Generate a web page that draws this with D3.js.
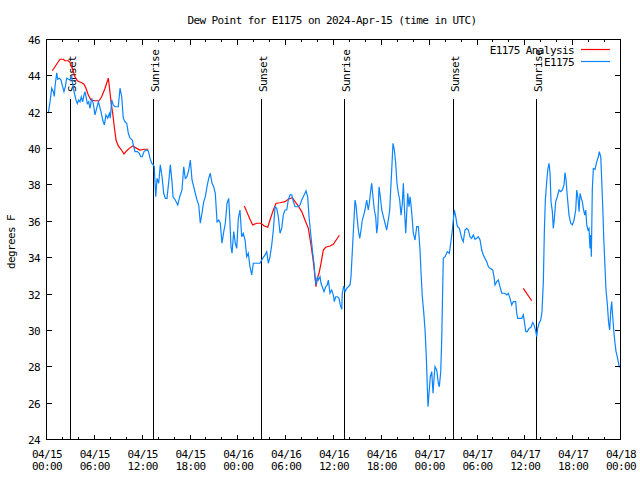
<!DOCTYPE html>
<html><head><meta charset="utf-8">
<script src="https://cdn.jsdelivr.net/npm/d3@7"></script>
<style>
body{margin:0;background:#fff}
svg{display:block}
text{font-family:"DejaVu Sans Mono",monospace;font-size:11px;letter-spacing:-0.6px;fill:#000}
</style>
</head><body><svg id="c" width="640" height="480"></svg>
<script>
const startTime = Date.UTC(2024, 3, 15, 0, 0, 0);
const titleText = "Dew Point for E1175 on 2024-Apr-15 (time in UTC)";
const yLabel = "degrees F";
const seriesNames = ["E1175 Analysis", "E1175"];

// E1175 observations: hours since 2024-04-15 00:00 UTC, dew point °F
const obsHours = [0.16,0.38,0.59,0.79,0.92,1.00,1.22,1.34,1.54,1.76,1.92,2.13,2.30,2.47,2.72,2.89,3.10,3.22,3.39,3.64,3.80,3.98,4.14,4.30,4.48,4.64,4.77,4.89,5.06,5.23,5.39,5.61,5.81,6.02,6.23,6.44,6.56,6.77,6.99,7.19,7.40,7.61,7.82,7.94,8.12,8.32,8.53,8.94,9.16,9.37,9.57,9.78,10.00,10.20,10.41,10.70,10.83,11.04,11.33,11.58,11.75,11.95,12.17,12.42,12.71,12.92,13.13,13.33,13.46,13.51,13.64,13.80,14.01,14.21,14.43,14.64,14.84,15.05,15.27,15.47,15.68,15.81,16.09,16.40,16.65,16.93,17.15,17.35,17.56,17.78,17.98,18.19,18.40,18.60,18.82,19.03,19.23,19.44,19.66,19.86,20.07,20.28,20.48,20.70,20.91,21.11,21.33,21.54,21.74,21.95,22.17,22.37,22.58,22.79,22.92,23.08,23.21,23.42,23.62,23.80,24.00,24.21,24.42,24.62,24.84,25.05,25.25,25.46,25.68,25.88,26.09,26.72,26.93,27.35,27.56,27.76,27.97,28.19,28.39,28.60,28.81,29.02,29.23,29.44,29.64,29.85,30.07,30.27,30.48,30.70,30.90,31.11,31.52,31.74,31.95,32.15,32.36,32.49,32.70,32.87,33.03,33.20,33.33,33.49,33.62,33.74,33.91,34.03,34.25,34.37,34.53,34.75,34.96,35.16,35.29,35.50,35.71,35.91,36.04,36.21,36.42,36.63,36.79,36.97,37.04,37.22,37.38,37.59,37.80,38.01,38.13,38.22,38.35,38.47,38.64,38.76,38.89,39.05,39.23,39.39,39.55,39.73,39.89,40.10,40.30,40.43,40.61,40.73,40.89,41.06,41.23,41.36,41.48,41.65,41.81,41.99,42.19,42.40,42.61,42.81,42.99,43.11,43.24,43.40,43.57,43.74,43.90,44.07,44.24,44.41,44.57,44.70,44.82,45.00,45.12,45.25,45.41,45.54,45.66,45.79,45.95,46.16,46.38,46.58,46.79,46.92,47.08,47.25,47.42,47.58,47.71,47.79,47.92,48.08,48.26,48.42,48.58,48.67,48.88,49.09,49.21,49.39,49.51,49.64,49.71,49.93,50.21,50.47,50.64,50.80,50.97,51.09,51.27,51.47,51.72,52.02,52.22,52.43,52.65,52.85,53.06,53.27,53.48,53.69,53.90,54.10,54.32,54.53,54.73,54.94,55.16,55.36,55.57,55.91,56.07,56.20,56.41,56.61,56.82,57.04,57.45,57.67,57.87,58.08,58.29,58.49,58.79,58.92,59.05,59.55,59.75,59.88,60.05,60.25,60.46,60.71,60.93,61.09,61.25,61.43,61.55,61.72,61.93,62.09,62.26,62.38,62.51,62.68,62.81,62.97,63.10,63.22,63.39,63.51,63.64,63.81,64.01,64.23,64.44,64.64,64.85,64.98,65.11,65.27,65.48,65.69,65.90,66.11,66.32,66.45,66.61,66.74,66.86,67.02,67.15,67.27,67.45,67.58,67.70,67.86,67.99,68.11,68.20,68.28,68.40,68.53,68.74,68.96,69.16,69.28,69.46,69.58,69.71,69.83,69.99,70.12,70.28,70.45,70.58,70.71,70.83,70.96,71.12,71.25,71.38,71.53,71.66,71.78,71.96];
const obsValues = [41.97,42.6,43.35,43.16,42.9,43.43,44.2,43.84,43.9,43.8,43.5,43.16,43.43,43.9,43.84,43.8,43.98,43.6,43.16,42.7,42.5,42.7,42.6,42.88,42.6,42.98,43.16,42.88,42.5,42.6,42.24,42.79,42.5,41.88,42.24,42.6,42.42,42.06,41.6,41.33,41.88,41.7,41.97,41.7,42.7,42.42,42.33,42.33,43.35,42.88,41.7,41.5,41.42,40.87,40.6,40.5,40.23,39.86,39.86,39.77,39.58,39.58,39.86,39.95,39.9,39.5,39.22,39.13,39.03,38.48,37.38,38.39,38.12,39.13,38.48,37.57,37.29,37.29,38.2,39.13,38.2,37.38,37.2,36.93,37.38,37.75,39.03,38.39,38.48,38.85,39.4,38.3,37.93,37.57,37.2,36.93,35.92,36.47,37.11,37.38,37.93,38.39,38.67,38.12,37.93,37.57,36.0,36.1,35.92,34.82,35.46,35.92,37.02,37.29,36.28,34.63,34.27,35.46,34.82,34.54,36.19,36.65,35.18,35.37,35.0,34.08,34.27,33.53,33.08,33.72,33.72,33.72,33.9,34.18,34.36,33.72,34.08,34.73,35.55,36.83,36.74,36.28,35.37,35.64,36.37,36.65,36.65,37.2,37.48,37.48,37.11,36.83,36.83,36.93,37.2,37.38,37.57,37.71,37.38,36.28,35.55,34.82,34.27,33.72,32.98,32.53,32.98,32.8,32.98,32.62,32.43,32.16,32.43,32.53,32.8,32.07,32.25,31.98,31.61,31.88,31.88,31.79,31.43,31.19,32.07,32.47,32.16,32.34,32.43,32.53,32.98,33.72,34.82,35.83,37.2,36.93,36.28,35.55,35.09,35.55,36.1,36.37,36.65,37.2,36.65,37.02,37.75,38.12,37.38,36.65,36.28,35.37,35.83,37.93,37.38,36.65,36.28,35.92,35.55,36.1,36.65,37.75,38.85,40.32,39.95,39.22,38.12,37.57,37.2,36.37,37.02,38.12,36.83,35.37,36.47,37.57,36.83,37.38,36.93,36.28,35.37,35.0,35.74,35.74,34.45,33.17,31.88,31.06,30.05,28.58,26.84,25.83,26.57,27.48,27.76,26.57,27.58,28.03,27.85,27.12,26.93,27.76,29.5,32.43,33.99,34.08,34.36,34.27,34.82,35.37,36.1,36.65,36.28,35.74,35.64,35.09,34.91,35.55,35.64,35.55,35.18,35.09,35.28,35.04,35.09,35.18,35.0,34.45,34.18,33.99,33.81,33.53,33.44,33.35,32.98,32.53,32.71,32.8,32.43,32.07,32.07,31.98,32.07,31.79,31.43,31.61,31.61,30.97,30.69,30.69,30.88,30.51,29.96,29.96,30.14,30.2,30.46,30.33,30.09,29.68,30.14,30.42,30.6,31.06,32.71,35.37,37.2,38.2,38.85,39.22,38.67,37.11,36.56,35.64,36.19,37.11,37.38,37.75,37.66,37.75,38.03,38.71,38.3,37.38,36.37,35.92,35.83,36.1,36.65,37.75,37.29,36.56,37.57,37.29,37.11,36.74,36.37,36.65,35.83,35.55,35.64,34.54,35.28,34.08,37.75,38.94,38.89,39.31,39.58,39.86,39.58,38.3,36.83,35.18,33.53,32.25,31.52,30.42,30.05,31.06,31.61,30.78,29.87,29.32,28.86,28.58,28.3,28.03,28.0];

// E1175 Analysis: null marks a gap in the record
const anaHours = [0.66,1.00,1.29,1.63,2.04,2.26,2.67,2.89,3.10,3.30,3.51,3.80,4.35,4.64,4.89,5.18,5.52,6.02,6.52,6.86,7.28,7.69,7.82,8.03,8.24,8.44,8.66,8.94,9.28,9.66,10.00,10.32,10.75,11.25,11.67,12.17,12.71,null,24.75,25.05,25.46,25.80,26.31,26.84,27.26,27.69,27.97,28.39,28.73,29.23,29.85,30.27,30.77,31.11,31.52,31.95,32.36,32.78,33.08,33.33,33.53,33.74,33.91,34.12,34.37,34.66,34.96,35.50,35.91,36.34,36.67,null,59.75,60.80];
const anaValues = [44.31,44.53,44.72,44.94,44.94,44.86,44.86,44.77,44.53,44.26,43.98,43.76,43.65,43.57,43.35,42.98,42.7,42.66,42.66,42.88,43.35,43.9,43.43,42.6,41.97,41.23,40.5,40.17,39.99,39.73,39.91,40.04,40.17,40.04,39.95,39.99,39.99,null,36.87,36.56,36.14,35.83,35.92,35.92,35.77,35.7,36.1,36.65,37.02,37.05,37.11,37.24,37.33,37.11,36.87,36.56,36.1,35.64,34.82,34.08,33.35,32.43,32.89,33.17,33.72,34.45,34.6,34.67,34.76,35.04,35.26,null,32.34,31.66];

const sunHours = [2.92, 13.33, 26.88, 37.29, 50.97, 61.38];
const sunLabels = ["Sunset", "Sunrise", "Sunset", "Sunrise", "Sunset", "Sunrise"];

const yTickValues = [24,26,28,30,32,34,36,38,40,42,44,46];
const xMajorHours = [0,6,12,18,24,30,36,42,48,54,60,66,72];
const xMinorHours = d3.range(0, 73, 2);

const toDate = h => new Date(startTime + h * 3600000);

const svg = d3.select("#c");
const L = 47, R = 621, T = 40, B = 440;
const x = d3.scaleUtc().domain([toDate(0), toDate(72)]).range([L, R]);
const y = d3.scaleLinear().domain([24, 46]).range([B, T]);

svg.append("rect").attr("width", 640).attr("height", 480).attr("fill", "#fff");

// sun event lines
const sunG = svg.append("g");
sunHours.forEach((h, i) => {
  const px = Math.round(x(toDate(h))) + 0.5;
  sunG.append("line").attr("x1", px).attr("x2", px).attr("y1", 99).attr("y2", B)
    .attr("stroke", "#000").attr("stroke-width", 1);
  sunG.append("text").attr("transform", `translate(${px + 5},92) rotate(-90)`)
    .attr("text-anchor", "start").text(sunLabels[i]);
});

// series
const anaData = anaHours.map((h, i) => ({t: h == null ? null : toDate(h), v: anaValues[i]}));
const obsData = obsHours.map((h, i) => ({t: toDate(h), v: obsValues[i]}));
const line = d3.line().defined(d => d.t != null && d.v != null).x(d => x(d.t)).y(d => y(d.v));
svg.append("path").datum(anaData).attr("d", line).attr("fill", "none").attr("stroke", "#ff0000").attr("stroke-width", 1.2);
svg.append("path").datum(obsData).attr("d", line).attr("fill", "none").attr("stroke", "#0a84ff").attr("stroke-width", 1.2);

// border
svg.append("rect").attr("x", L - 0.5).attr("y", T - 0.5).attr("width", R - L).attr("height", B - T)
  .attr("fill", "none").attr("stroke", "#000").attr("stroke-width", 1).attr("shape-rendering", "crispEdges");

// axes with inward ticks (gnuplot style)
const axG = svg.append("g").attr("shape-rendering", "crispEdges").attr("stroke", "#000");
yTickValues.forEach(v => {
  const py = Math.round(y(v)) - 0.5;
  axG.append("line").attr("x1", L - 0.5).attr("x2", L + 5).attr("y1", py).attr("y2", py);
  axG.append("line").attr("x1", R - 0.5).attr("x2", R - 6).attr("y1", py).attr("y2", py);
});
xMinorHours.forEach(h => {
  const px = Math.round(x(toDate(h))) - 0.5;
  const len = (h % 6 === 0) ? 5 : 2.5;
  axG.append("line").attr("x1", px).attr("x2", px).attr("y1", B - 0.5).attr("y2", B - 0.5 - len);
  axG.append("line").attr("x1", px).attr("x2", px).attr("y1", T - 0.5).attr("y2", T - 0.5 + len);
});

// y tick labels
svg.append("g").selectAll("text").data(yTickValues).join("text")
  .attr("x", 40).attr("y", d => y(d) + 4).attr("text-anchor", "end").text(d => d);

// x tick labels
const fmtDay = d3.utcFormat("%m/%d"), fmtTime = d3.utcFormat("%H:%M");
const xl = svg.append("g").selectAll("g").data(xMajorHours).join("g")
  .attr("transform", h => `translate(${x(toDate(h))},0)`);
xl.append("text").attr("y", 458).attr("text-anchor", "middle").text(h => fmtDay(toDate(h)));
xl.append("text").attr("y", 470).attr("text-anchor", "middle").text(h => fmtTime(toDate(h)));

// title and axis label
svg.append("text").attr("x", 332).attr("y", 24).attr("text-anchor", "middle").text(titleText);
svg.append("text").attr("transform", "translate(15,242) rotate(-90)").attr("text-anchor", "middle").text(yLabel);

// legend
const legColors = ["#ff0000", "#0a84ff"];
seriesNames.forEach((n, i) => {
  const ly = 50 + i * 12;
  svg.append("text").attr("x", 574).attr("y", ly + 4).attr("text-anchor", "end").text(n);
  svg.append("line").attr("x1", 581).attr("x2", 610).attr("y1", ly - 0.5).attr("y2", ly - 0.5)
    .attr("stroke", legColors[i]).attr("stroke-width", 1.2);
});
</script>
</body></html>
